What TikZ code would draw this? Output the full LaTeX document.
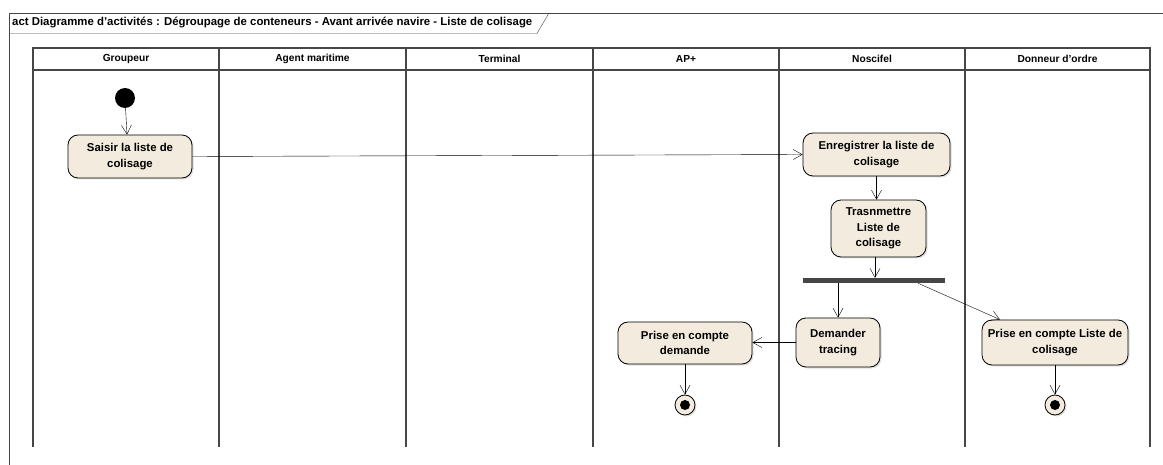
\documentclass[tikz,border=0pt]{standalone}
\usepackage{fontspec}
\setmainfont{Liberation Sans}
\usetikzlibrary{arrows.meta,shadows}
\definecolor{actfill}{RGB}{243,235,222}
\definecolor{lanegray}{RGB}{70,70,70}

\begin{document}
\begin{tikzpicture}[
		x=1pt, y=-1pt,
		>={Straight Barb[length=9pt,width=10pt]},
		act/.style={rectangle,rounded corners=10pt,draw=black,fill=actfill,thick,
			align=center,font=\fontsize{11.4}{15.5}\selectfont\bfseries,inner sep=1pt,
			drop shadow={shadow xshift=1.5pt,shadow yshift=-1.5pt,opacity=0.25}},
		flow/.style={->,thin,draw=black},
		lane/.style={draw=lanegray,line width=1.3pt},
		head/.style={font=\fontsize{10.2}{11}\selectfont\bfseries},
		scale=1
	]
		\useasboundingbox (0,0) rectangle (1163,465);
		% cadre
		\draw[draw=lanegray, thin] (9.5,465) -- (9.5,13) -- (1163,13);
		\draw[draw=lanegray, thin] (9.5,33.5) -- (537,33.5) -- (549,13);
		\node[anchor=west, font=\fontsize{11.4}{13}\selectfont\bfseries, inner sep=0pt] (titre) at (12,23)
			{act Diagramme d'activités : Dégroupage de conteneurs - Avant arrivée navire - Liste de colisage};
		% couloirs
		\draw[lane] (33,447) -- (33,48) -- (1150,48) -- (1150,447);
		\draw[lane] (33,70) -- (1150,70);
		\foreach \x in {219,406,593,779,965}
			\draw[lane] (\x,48) -- (\x,447);
		\node[head] (h1) at (126,59) {Groupeur};
		\node[head] (h2) at (312.5,59) {Agent maritime};
		\node[head] (h3) at (499.5,59) {Terminal};
		\node[head] (h4) at (686,59) {AP+};
		\node[head] (h5) at (872,59) {Noscifel};
		\node[head] (h6) at (1057.5,59) {Donneur d'ordre};
		% noeuds
		\node[circle,fill=black,minimum size=20pt,inner sep=0pt] (init) at (125,98) {};
		\node[act,minimum width=124pt,minimum height=43pt] (saisir) at (130,156.5) {Saisir la liste de\\colisage};
		\node[act,minimum width=147pt,minimum height=43pt] (enreg) at (876.5,154.5) {Enregistrer la liste de\\colisage};
		\node[act,minimum width=95pt,minimum height=57pt] (trans) at (878.5,228.5) {Trasnmettre\\Liste de\\colisage};
		\node[rectangle,fill=lanegray,minimum width=142pt,minimum height=5pt,inner sep=0pt] (fork) at (874,280.5) {};
		\node[act,minimum width=84pt,minimum height=49pt] (demander) at (838,342.5) {Demander\\tracing};
		\node[act,minimum width=134pt,minimum height=42pt] (prisedem) at (685,343) {Prise en compte\\demande};
		\node[act,minimum width=146pt,minimum height=45pt] (priseliste) at (1055,342.5) {Prise en compte Liste de\\colisage};
		\node[circle,draw=black,fill=actfill,thick,minimum size=20pt,inner sep=0pt,
			drop shadow={shadow xshift=1.5pt,shadow yshift=-1.5pt,opacity=0.25}] (fin1) at (685,405) {};
		\node[circle,fill=black,minimum size=10pt,inner sep=0pt] (fin1p) at (fin1) {};
		\node[circle,draw=black,fill=actfill,thick,minimum size=20pt,inner sep=0pt,
			drop shadow={shadow xshift=1.5pt,shadow yshift=-1.5pt,opacity=0.25}] (fin2) at (1055,405) {};
		\node[circle,fill=black,minimum size=10pt,inner sep=0pt] (fin2p) at (fin2) {};
		% flux
		\draw[flow] (init) -- (saisir.north -| 127,0);
		\draw[flow] (saisir.east) -- (enreg.west);
		\draw[flow] (enreg.south) -- (enreg.south |- trans.north);
		\draw[flow] (trans.south -| 875,0) -- (fork.north -| 875,0);
		\draw[flow] (fork.south -| demander.north) -- (demander.north);
		\draw[flow] (fork.south -| 918,0) -- (priseliste.north -| 1000,0);
		\draw[flow] (demander.west) -- (demander.west -| prisedem.east);
		\draw[flow] (prisedem.south) -- (fin1.north);
		\draw[flow] (priseliste.south) -- (fin2.north);
	\end{tikzpicture}
\end{document}
